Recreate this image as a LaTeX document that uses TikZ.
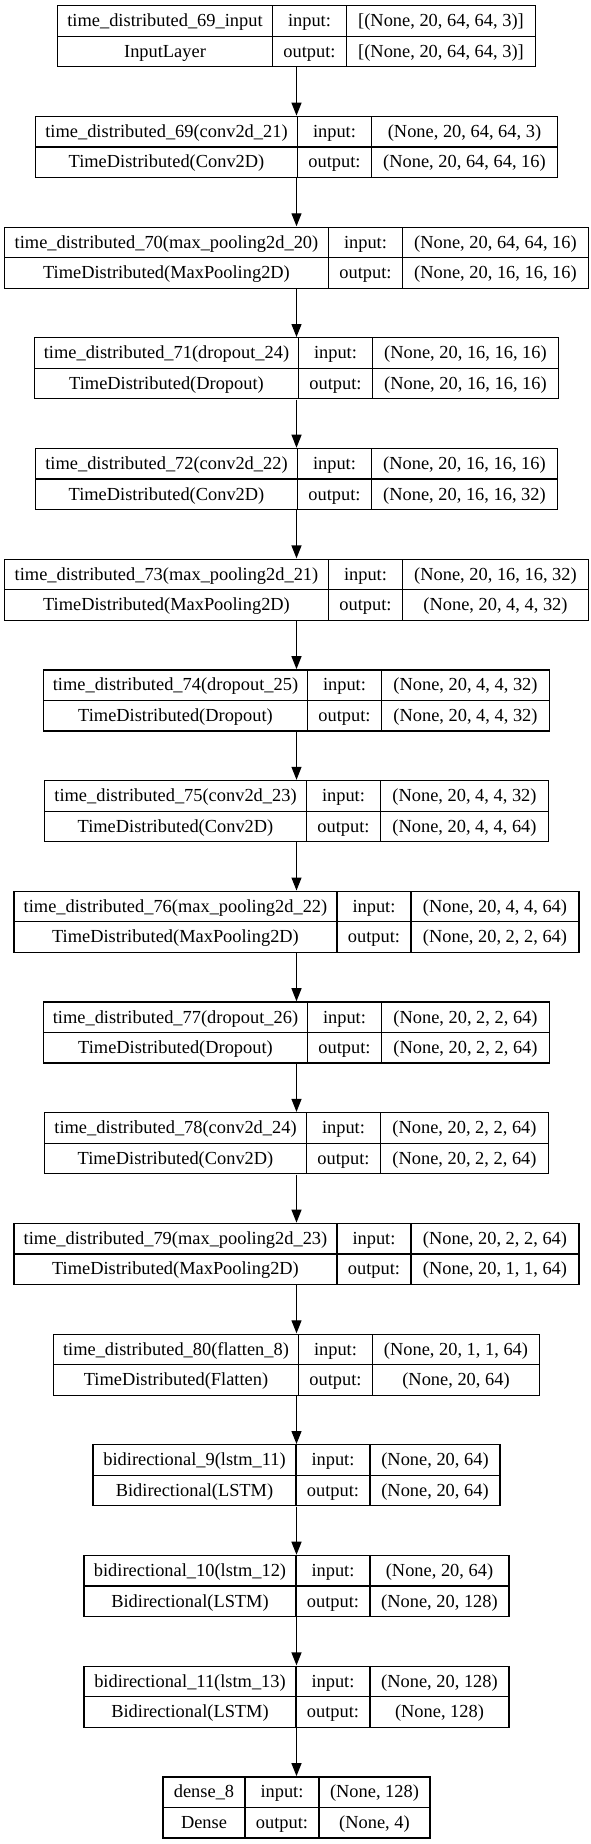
\documentclass[tikz,border=0pt]{standalone}
\usepackage{fontspec}
\setmainfont{Liberation Serif}
\usetikzlibrary{matrix}
\usetikzlibrary{arrows.meta}

\tikzset{
  layer/.style={matrix of nodes, inner sep=0pt, column sep=-1.2pt, row sep=-1.2pt,
    nodes={draw, line width=1.2pt, inner sep=0pt, minimum height=30.5pt,
      text height=15.5pt, text depth=4pt, anchor=center,
      font=\fontsize{18.4}{22}\selectfont}},
  cols/.style n args={3}{column 1/.style={nodes={minimum width=#1}},
    column 2/.style={nodes={minimum width=#2}},
    column 3/.style={nodes={minimum width=#3}}},
  flow/.style={line width=1.2pt, -{Triangle[length=13pt,width=10pt]}}
}

\begin{document}
\begin{tikzpicture}[x=1pt,y=-1pt]
    \useasboundingbox (0,0) rectangle (591,1844);

    \matrix (in69) [layer, cols={215pt}{74pt}{189pt}] at (296.5,36.2) {
      time\_distributed\_69\_input & input: & {[(None, 20, 64, 64, 3)]} \\
      InputLayer & output: & {[(None, 20, 64, 64, 3)]} \\ };
    \matrix (td69) [layer, cols={262pt}{74pt}{186pt}] at (296.5,146.9) {
      time\_distributed\_69(conv2d\_21) & input: & (None, 20, 64, 64, 3) \\
      TimeDistributed(Conv2D) & output: & (None, 20, 64, 64, 16) \\ };
    \matrix (td70) [layer, cols={324pt}{74pt}{186pt}] at (296.5,257.6) {
      time\_distributed\_70(max\_pooling2d\_20) & input: & (None, 20, 64, 64, 16) \\
      TimeDistributed(MaxPooling2D) & output: & (None, 20, 16, 16, 16) \\ };
    \matrix (td71) [layer, cols={264pt}{74pt}{186pt}] at (296.5,368.3) {
      time\_distributed\_71(dropout\_24) & input: & (None, 20, 16, 16, 16) \\
      TimeDistributed(Dropout) & output: & (None, 20, 16, 16, 16) \\ };
    \matrix (td72) [layer, cols={262pt}{74pt}{186pt}] at (296.5,479.0) {
      time\_distributed\_72(conv2d\_22) & input: & (None, 20, 16, 16, 16) \\
      TimeDistributed(Conv2D) & output: & (None, 20, 16, 16, 32) \\ };
    \matrix (td73) [layer, cols={324pt}{74pt}{186pt}] at (296.5,589.7) {
      time\_distributed\_73(max\_pooling2d\_21) & input: & (None, 20, 16, 16, 32) \\
      TimeDistributed(MaxPooling2D) & output: & (None, 20, 4, 4, 32) \\ };
    \matrix (td74) [layer, cols={264pt}{74pt}{168pt}] at (296.5,700.4) {
      time\_distributed\_74(dropout\_25) & input: & (None, 20, 4, 4, 32) \\
      TimeDistributed(Dropout) & output: & (None, 20, 4, 4, 32) \\ };
    \matrix (td75) [layer, cols={262pt}{74pt}{168pt}] at (296.5,811.1) {
      time\_distributed\_75(conv2d\_23) & input: & (None, 20, 4, 4, 32) \\
      TimeDistributed(Conv2D) & output: & (None, 20, 4, 4, 64) \\ };
    \matrix (td76) [layer, cols={323pt}{74pt}{168pt}] at (296.5,921.8) {
      time\_distributed\_76(max\_pooling2d\_22) & input: & (None, 20, 4, 4, 64) \\
      TimeDistributed(MaxPooling2D) & output: & (None, 20, 2, 2, 64) \\ };
    \matrix (td77) [layer, cols={264pt}{74pt}{168pt}] at (296.5,1032.5) {
      time\_distributed\_77(dropout\_26) & input: & (None, 20, 2, 2, 64) \\
      TimeDistributed(Dropout) & output: & (None, 20, 2, 2, 64) \\ };
    \matrix (td78) [layer, cols={262pt}{74pt}{168pt}] at (296.5,1143.2) {
      time\_distributed\_78(conv2d\_24) & input: & (None, 20, 2, 2, 64) \\
      TimeDistributed(Conv2D) & output: & (None, 20, 2, 2, 64) \\ };
    \matrix (td79) [layer, cols={323pt}{74pt}{168pt}] at (296.5,1253.9) {
      time\_distributed\_79(max\_pooling2d\_23) & input: & (None, 20, 2, 2, 64) \\
      TimeDistributed(MaxPooling2D) & output: & (None, 20, 1, 1, 64) \\ };
    \matrix (td80) [layer, cols={245pt}{74pt}{167pt}] at (296.5,1364.6) {
      time\_distributed\_80(flatten\_8) & input: & (None, 20, 1, 1, 64) \\
      TimeDistributed(Flatten) & output: & (None, 20, 64) \\ };
    \matrix (bi9) [layer, cols={203pt}{74pt}{130pt}] at (296.5,1475.3) {
      bidirectional\_9(lstm\_11) & input: & (None, 20, 64) \\
      Bidirectional(LSTM) & output: & (None, 20, 64) \\ };
    \matrix (bi10) [layer, cols={212pt}{74pt}{139pt}] at (296.5,1586.0) {
      bidirectional\_10(lstm\_12) & input: & (None, 20, 64) \\
      Bidirectional(LSTM) & output: & (None, 20, 128) \\ };
    \matrix (bi11) [layer, cols={212pt}{74pt}{139pt}] at (296.5,1696.7) {
      bidirectional\_11(lstm\_13) & input: & (None, 20, 128) \\
      Bidirectional(LSTM) & output: & (None, 128) \\ };
    \matrix (dense8) [layer, cols={82pt}{74pt}{111pt}] at (296.5,1807.4) {
      dense\_8 & input: & (None, 128) \\
      Dense & output: & (None, 4) \\ };

    \draw[flow] (in69.south) -- (td69.north);
    \draw[flow] (td69.south) -- (td70.north);
    \draw[flow] (td70.south) -- (td71.north);
    \draw[flow] (td71.south) -- (td72.north);
    \draw[flow] (td72.south) -- (td73.north);
    \draw[flow] (td73.south) -- (td74.north);
    \draw[flow] (td74.south) -- (td75.north);
    \draw[flow] (td75.south) -- (td76.north);
    \draw[flow] (td76.south) -- (td77.north);
    \draw[flow] (td77.south) -- (td78.north);
    \draw[flow] (td78.south) -- (td79.north);
    \draw[flow] (td79.south) -- (td80.north);
    \draw[flow] (td80.south) -- (bi9.north);
    \draw[flow] (bi9.south) -- (bi10.north);
    \draw[flow] (bi10.south) -- (bi11.north);
    \draw[flow] (bi11.south) -- (dense8.north);
\end{tikzpicture}
\end{document}
